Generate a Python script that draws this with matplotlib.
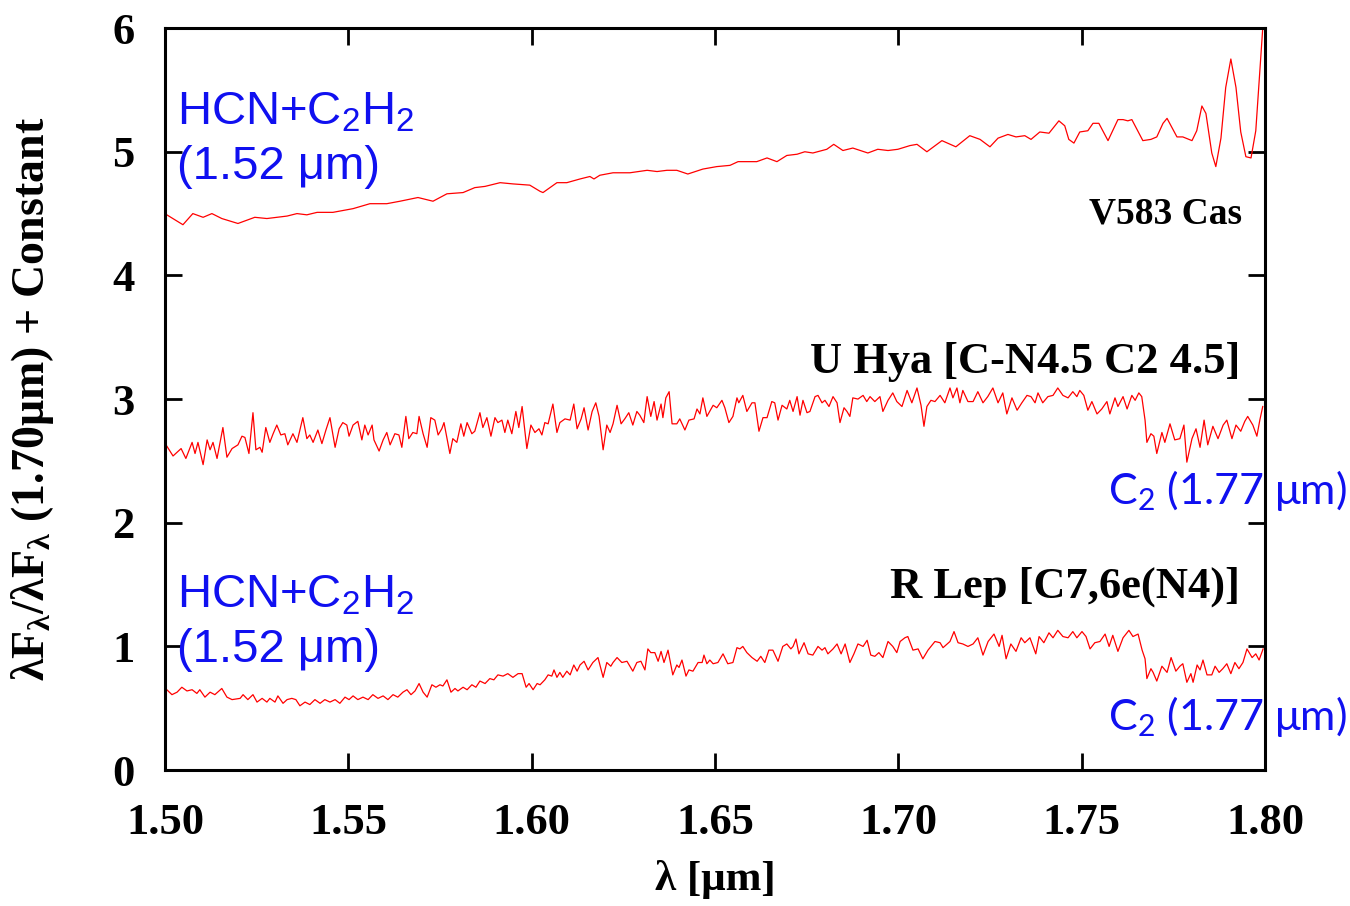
import numpy as np
import matplotlib
matplotlib.use("Agg")
from matplotlib import pyplot as plt

# V583 Cas (offset spectrum, top)
cas_wl = [1.5005, 1.5049, 1.5076, 1.5104, 1.5128, 1.5155, 1.5199, 1.5245, 1.5278, 1.5333,
          1.5360, 1.5387, 1.5415, 1.5458, 1.5513, 1.5559, 1.5605, 1.5641, 1.5690, 1.5731,
          1.5769, 1.5813, 1.5845, 1.5873, 1.5914, 1.5949, 1.5995, 1.6023, 1.6031, 1.6069,
          1.6096, 1.6132, 1.6159, 1.6170, 1.6186, 1.6222, 1.6268, 1.6315, 1.6342, 1.6369,
          1.6396, 1.6426, 1.6467, 1.6505, 1.6541, 1.6563, 1.6614, 1.6642, 1.6669, 1.6696,
          1.6724, 1.6745, 1.6767, 1.6805, 1.6824, 1.6849, 1.6876, 1.6917, 1.6944, 1.6972,
          1.6999, 1.7032, 1.7051, 1.7078, 1.7119, 1.7157, 1.7195, 1.7223, 1.7250, 1.7272,
          1.7299, 1.7321, 1.7345, 1.7362, 1.7386, 1.7411, 1.7438, 1.7454, 1.7465, 1.7479,
          1.7495, 1.7517, 1.7531, 1.7547, 1.7572, 1.7599, 1.7613, 1.7626, 1.7637, 1.7667,
          1.7689, 1.7705, 1.7722, 1.7733, 1.7760, 1.7776, 1.7801, 1.7814, 1.7828, 1.7839,
          1.7855, 1.7866, 1.7880, 1.7893, 1.7907, 1.7921, 1.7934, 1.7948, 1.7962, 1.7975,
          1.7994]
cas_fl = [4.49, 4.41, 4.50, 4.47, 4.50, 4.46, 4.42, 4.47, 4.46, 4.48,
          4.50, 4.49, 4.51, 4.51, 4.54, 4.58, 4.58, 4.60, 4.63, 4.60,
          4.66, 4.67, 4.71, 4.72, 4.75, 4.74, 4.73, 4.68, 4.67, 4.75,
          4.75, 4.78, 4.80, 4.78, 4.81, 4.83, 4.83, 4.85, 4.84, 4.85,
          4.85, 4.82, 4.86, 4.88, 4.89, 4.92, 4.92, 4.95, 4.92, 4.97,
          4.98, 5.00, 4.99, 5.02, 5.06, 5.01, 5.03, 4.99, 5.02, 5.01,
          5.02, 5.05, 5.06, 5.00, 5.09, 5.04, 5.13, 5.10, 5.04, 5.11,
          5.14, 5.12, 5.13, 5.10, 5.16, 5.15, 5.25, 5.21, 5.10, 5.07,
          5.16, 5.17, 5.23, 5.23, 5.09, 5.26, 5.26, 5.25, 5.26, 5.09,
          5.10, 5.12, 5.23, 5.27, 5.12, 5.12, 5.09, 5.17, 5.37, 5.31,
          4.99, 4.88, 5.11, 5.52, 5.75, 5.52, 5.16, 4.96, 4.95, 5.17,
          6.00]

# U Hya (middle)
hya_wl = [1.5005, 1.5022, 1.5044, 1.5057, 1.5074, 1.5082, 1.5090, 1.5104, 1.5115, 1.5123,
          1.5131, 1.5142, 1.5158, 1.5169, 1.5183, 1.5199, 1.5210, 1.5218, 1.5229, 1.5240,
          1.5248, 1.5259, 1.5265, 1.5275, 1.5286, 1.5295, 1.5305, 1.5316, 1.5327, 1.5335,
          1.5349, 1.5360, 1.5376, 1.5387, 1.5395, 1.5404, 1.5417, 1.5428, 1.5439, 1.5450,
          1.5464, 1.5475, 1.5485, 1.5496, 1.5502, 1.5513, 1.5526, 1.5537, 1.5545, 1.5554,
          1.5565, 1.5570, 1.5584, 1.5595, 1.5605, 1.5614, 1.5627, 1.5638, 1.5646, 1.5657,
          1.5665, 1.5676, 1.5687, 1.5693, 1.5704, 1.5715, 1.5725, 1.5736, 1.5745, 1.5755,
          1.5761, 1.5777, 1.5785, 1.5796, 1.5807, 1.5815, 1.5824, 1.5837, 1.5845, 1.5859,
          1.5867, 1.5878, 1.5889, 1.5900, 1.5908, 1.5919, 1.5927, 1.5935, 1.5946, 1.5957,
          1.5965, 1.5974, 1.5987, 1.5998, 1.6009, 1.6020, 1.6028, 1.6036, 1.6045, 1.6058,
          1.6069, 1.6077, 1.6091, 1.6105, 1.6115, 1.6124, 1.6135, 1.6143, 1.6154, 1.6165,
          1.6175, 1.6184, 1.6195, 1.6205, 1.6214, 1.6222, 1.6233, 1.6244, 1.6254, 1.6265,
          1.6276, 1.6287, 1.6295, 1.6306, 1.6315, 1.6325, 1.6334, 1.6342, 1.6353, 1.6358,
          1.6366, 1.6375, 1.6383, 1.6396, 1.6404, 1.6418, 1.6429, 1.6443, 1.6451, 1.6459,
          1.6467, 1.6478, 1.6495, 1.6505, 1.6519, 1.6527, 1.6538, 1.6549, 1.6560, 1.6565,
          1.6576, 1.6587, 1.6601, 1.6609, 1.6620, 1.6631, 1.6642, 1.6655, 1.6663, 1.6672,
          1.6683, 1.6696, 1.6704, 1.6713, 1.6724, 1.6732, 1.6740, 1.6751, 1.6759, 1.6773,
          1.6781, 1.6792, 1.6800, 1.6811, 1.6822, 1.6833, 1.6841, 1.6852, 1.6860, 1.6868,
          1.6876, 1.6890, 1.6904, 1.6914, 1.6923, 1.6936, 1.6950, 1.6958, 1.6972, 1.6985,
          1.6996, 1.7010, 1.7024, 1.7037, 1.7051, 1.7062, 1.7070, 1.7078, 1.7089, 1.7100,
          1.7114, 1.7127, 1.7141, 1.7149, 1.7160, 1.7168, 1.7176, 1.7190, 1.7204, 1.7217,
          1.7231, 1.7244, 1.7258, 1.7272, 1.7285, 1.7296, 1.7310, 1.7324, 1.7337, 1.7351,
          1.7362, 1.7373, 1.7381, 1.7394, 1.7408, 1.7422, 1.7435, 1.7449, 1.7463, 1.7476,
          1.7487, 1.7495, 1.7506, 1.7517, 1.7528, 1.7542, 1.7555, 1.7569, 1.7577, 1.7591,
          1.7599, 1.7613, 1.7624, 1.7637, 1.7646, 1.7656, 1.7664, 1.7673, 1.7678, 1.7689,
          1.7697, 1.7705, 1.7719, 1.7727, 1.7741, 1.7754, 1.7768, 1.7779, 1.7787, 1.7801,
          1.7812, 1.7823, 1.7834, 1.7844, 1.7858, 1.7872, 1.7886, 1.7896, 1.7910, 1.7921,
          1.7934, 1.7945, 1.7953, 1.7967, 1.7978, 1.7986, 1.7994]
hya_fl = [2.62, 2.54, 2.60, 2.52, 2.65, 2.56, 2.65, 2.47, 2.67, 2.59,
          2.65, 2.52, 2.77, 2.53, 2.60, 2.63, 2.70, 2.69, 2.56, 2.89,
          2.59, 2.61, 2.57, 2.77, 2.65, 2.72, 2.79, 2.71, 2.72, 2.63,
          2.72, 2.65, 2.85, 2.68, 2.71, 2.65, 2.75, 2.64, 2.75, 2.85,
          2.61, 2.76, 2.81, 2.79, 2.70, 2.79, 2.82, 2.67, 2.79, 2.71,
          2.79, 2.67, 2.58, 2.67, 2.73, 2.63, 2.72, 2.71, 2.61, 2.86,
          2.68, 2.73, 2.72, 2.86, 2.72, 2.61, 2.85, 2.83, 2.71, 2.76,
          2.81, 2.56, 2.68, 2.65, 2.80, 2.70, 2.81, 2.72, 2.74, 2.89,
          2.77, 2.85, 2.70, 2.85, 2.81, 2.83, 2.73, 2.83, 2.72, 2.90,
          2.77, 2.94, 2.60, 2.79, 2.73, 2.76, 2.71, 2.81, 2.80, 2.96,
          2.73, 2.81, 2.84, 2.83, 2.96, 2.76, 2.84, 2.93, 2.75, 2.90,
          2.97, 2.86, 2.59, 2.79, 2.73, 2.80, 2.95, 2.80, 2.84, 2.89,
          2.79, 2.90, 2.87, 2.81, 3.02, 2.86, 2.98, 2.83, 2.96, 2.85,
          3.01, 3.06, 2.80, 2.80, 2.84, 2.75, 2.83, 2.84, 2.92, 2.88,
          3.01, 2.86, 2.95, 2.93, 2.99, 2.93, 2.81, 2.86, 3.01, 2.97,
          3.03, 2.90, 2.97, 2.97, 2.74, 2.85, 2.85, 2.98, 2.97, 2.83,
          2.95, 2.92, 2.99, 2.90, 3.02, 2.87, 2.99, 2.89, 2.90, 3.02,
          3.03, 2.97, 2.99, 2.94, 3.02, 2.97, 2.81, 2.93, 2.90, 2.86,
          3.01, 3.00, 3.03, 2.98, 3.02, 2.98, 3.02, 2.90, 2.99, 3.05,
          2.98, 2.94, 3.07, 2.97, 3.09, 2.95, 2.78, 2.94, 2.99, 2.98,
          3.03, 2.97, 3.09, 3.01, 3.09, 2.97, 3.07, 2.98, 2.98, 3.06,
          2.97, 3.02, 3.09, 2.97, 3.05, 2.88, 3.01, 2.91, 2.97, 3.03,
          3.02, 2.97, 3.05, 2.97, 3.02, 3.03, 3.09, 3.03, 3.01, 3.06,
          3.02, 3.07, 3.03, 2.91, 2.98, 2.88, 2.92, 2.98, 2.88, 3.01,
          2.94, 3.02, 2.92, 3.03, 2.99, 3.05, 3.02, 2.83, 2.65, 2.72,
          2.70, 2.56, 2.73, 2.65, 2.80, 2.67, 2.68, 2.79, 2.49, 2.68,
          2.76, 2.61, 2.83, 2.63, 2.78, 2.68, 2.79, 2.83, 2.68, 2.79,
          2.74, 2.82, 2.86, 2.79, 2.70, 2.83, 2.94]

# R Lep (bottom)
lep_wl = [1.5005, 1.5019, 1.5033, 1.5046, 1.5060, 1.5074, 1.5087, 1.5095, 1.5109, 1.5123,
          1.5136, 1.5155, 1.5169, 1.5183, 1.5205, 1.5213, 1.5226, 1.5240, 1.5251, 1.5265,
          1.5278, 1.5286, 1.5300, 1.5308, 1.5322, 1.5333, 1.5346, 1.5357, 1.5368, 1.5382,
          1.5395, 1.5409, 1.5423, 1.5436, 1.5450, 1.5464, 1.5477, 1.5491, 1.5502, 1.5513,
          1.5526, 1.5540, 1.5554, 1.5567, 1.5581, 1.5595, 1.5608, 1.5622, 1.5635, 1.5649,
          1.5660, 1.5671, 1.5682, 1.5693, 1.5704, 1.5715, 1.5728, 1.5739, 1.5750, 1.5758,
          1.5769, 1.5780, 1.5791, 1.5799, 1.5813, 1.5824, 1.5837, 1.5848, 1.5859, 1.5873,
          1.5886, 1.5897, 1.5908, 1.5922, 1.5935, 1.5949, 1.5963, 1.5974, 1.5985, 1.5993,
          1.6004, 1.6015, 1.6023, 1.6036, 1.6045, 1.6055, 1.6061, 1.6069, 1.6077, 1.6085,
          1.6096, 1.6105, 1.6115, 1.6124, 1.6132, 1.6143, 1.6154, 1.6167, 1.6181, 1.6195,
          1.6205, 1.6216, 1.6222, 1.6233, 1.6246, 1.6260, 1.6276, 1.6287, 1.6298, 1.6309,
          1.6317, 1.6325, 1.6336, 1.6345, 1.6353, 1.6361, 1.6372, 1.6385, 1.6396, 1.6402,
          1.6410, 1.6421, 1.6429, 1.6440, 1.6454, 1.6465, 1.6470, 1.6478, 1.6486, 1.6495,
          1.6508, 1.6522, 1.6535, 1.6549, 1.6560, 1.6568, 1.6576, 1.6587, 1.6601, 1.6615,
          1.6625, 1.6636, 1.6647, 1.6658, 1.6672, 1.6685, 1.6696, 1.6707, 1.6713, 1.6721,
          1.6729, 1.6743, 1.6754, 1.6767, 1.6781, 1.6792, 1.6800, 1.6808, 1.6822, 1.6833,
          1.6844, 1.6855, 1.6868, 1.6879, 1.6890, 1.6904, 1.6915, 1.6925, 1.6936, 1.6947,
          1.6958, 1.6972, 1.6985, 1.6996, 1.7005, 1.7018, 1.7026, 1.7040, 1.7054, 1.7067,
          1.7081, 1.7100, 1.7114, 1.7122, 1.7141, 1.7152, 1.7163, 1.7176, 1.7190, 1.7204,
          1.7217, 1.7231, 1.7245, 1.7261, 1.7275, 1.7283, 1.7294, 1.7307, 1.7321, 1.7335,
          1.7345, 1.7359, 1.7375, 1.7384, 1.7397, 1.7411, 1.7422, 1.7435, 1.7449, 1.7463,
          1.7476, 1.7487, 1.7501, 1.7512, 1.7523, 1.7536, 1.7550, 1.7564, 1.7575, 1.7585,
          1.7599, 1.7613, 1.7629, 1.7640, 1.7654, 1.7665, 1.7673, 1.7678, 1.7689, 1.7695,
          1.7705, 1.7719, 1.7733, 1.7744, 1.7757, 1.7768, 1.7776, 1.7787, 1.7798, 1.7804,
          1.7815, 1.7823, 1.7831, 1.7842, 1.7855, 1.7864, 1.7875, 1.7885, 1.7896, 1.7907,
          1.7918, 1.7929, 1.7940, 1.7951, 1.7965, 1.7975, 1.7984, 1.7995]
lep_fl = [0.65, 0.61, 0.63, 0.67, 0.64, 0.65, 0.62, 0.65, 0.59, 0.63,
          0.61, 0.66, 0.59, 0.57, 0.58, 0.61, 0.57, 0.61, 0.55, 0.58,
          0.55, 0.58, 0.55, 0.60, 0.54, 0.57, 0.58, 0.57, 0.52, 0.55,
          0.53, 0.57, 0.54, 0.57, 0.55, 0.57, 0.54, 0.59, 0.57, 0.60,
          0.57, 0.59, 0.57, 0.61, 0.58, 0.60, 0.57, 0.61, 0.59, 0.63,
          0.65, 0.61, 0.64, 0.70, 0.63, 0.59, 0.69, 0.67, 0.69, 0.68,
          0.73, 0.63, 0.66, 0.64, 0.67, 0.65, 0.69, 0.67, 0.72, 0.70,
          0.74, 0.73, 0.77, 0.76, 0.78, 0.75, 0.78, 0.78, 0.67, 0.70,
          0.65, 0.70, 0.69, 0.73, 0.77, 0.76, 0.81, 0.75, 0.79, 0.75,
          0.80, 0.77, 0.85, 0.80, 0.85, 0.88, 0.81, 0.87, 0.91, 0.75,
          0.87, 0.84, 0.87, 0.91, 0.87, 0.88, 0.80, 0.87, 0.88, 0.81,
          0.98, 0.95, 0.95, 0.88, 0.96, 0.87, 0.97, 0.77, 0.85, 0.83,
          0.89, 0.76, 0.81, 0.80, 0.87, 0.87, 0.93, 0.86, 0.89, 0.86,
          0.87, 0.94, 0.86, 0.87, 0.99, 0.98, 1.00, 0.95, 0.91, 0.88,
          0.92, 0.87, 0.97, 0.97, 0.88, 1.00, 1.02, 0.98, 1.00, 1.06,
          0.94, 1.03, 0.94, 0.93, 1.00, 0.97, 0.99, 0.94, 0.98, 1.02,
          0.94, 1.02, 0.87, 0.94, 1.02, 1.00, 1.05, 0.93, 0.92, 0.95,
          0.91, 1.04, 1.00, 0.95, 1.04, 1.07, 1.08, 0.97, 0.98, 0.90,
          0.97, 1.04, 1.03, 0.99, 1.04, 1.12, 1.03, 1.02, 1.00, 1.02,
          1.07, 0.93, 1.04, 1.10, 1.00, 1.09, 0.90, 1.02, 0.96, 1.07,
          1.03, 1.07, 0.94, 1.08, 1.03, 1.11, 1.07, 1.13, 1.08, 1.07,
          1.12, 1.07, 1.12, 1.08, 0.98, 1.03, 1.04, 1.10, 1.00, 1.09,
          0.96, 1.07, 1.13, 1.08, 1.10, 0.97, 0.90, 0.74, 0.82, 0.79,
          0.72, 0.84, 0.79, 0.91, 0.80, 0.84, 0.86, 0.71, 0.78, 0.71,
          0.85, 0.81, 0.89, 0.77, 0.77, 0.84, 0.79, 0.82, 0.86, 0.78,
          0.87, 0.82, 0.87, 0.98, 0.91, 0.94, 0.89, 0.98]

xticks = [1.50, 1.55, 1.60, 1.65, 1.70, 1.75, 1.80]
yticks = [0, 1, 2, 3, 4, 5, 6]

plt.rcParams["font.family"] = ["Liberation Serif", "DejaVu Serif"]
plt.rcParams["font.weight"] = "bold"

fig = plt.figure(figsize=(13.5, 9.06), dpi=100)
ax = fig.add_axes([0.1222, 0.150, 0.8148, 0.819])

for wl, fl in [(cas_wl, cas_fl), (hya_wl, hya_fl), (lep_wl, lep_fl)]:
    ax.plot(wl, fl, color="red", lw=0.9)

ax.set_xlim(1.50, 1.80)
ax.set_ylim(0, 6)
ax.set_xticks(xticks)
ax.set_xticklabels(["%.2f" % t for t in xticks])
ax.set_yticks(yticks)
ax.tick_params(direction="in", length=12, width=2, top=True, right=True, labelsize=32)
ax.tick_params(axis="x", pad=24)
ax.tick_params(axis="y", pad=22)
for lab in ax.get_xticklabels() + ax.get_yticklabels():
    lab.set_fontweight("bold")
for sp in ax.spines.values():
    sp.set_linewidth(2.2)

ax.set_xlabel("λ [μm]", fontsize=31, fontweight="bold", labelpad=12)
ax.set_ylabel(r"λF$\mathregular{_λ}$/λF$\mathregular{_λ}$ (1.70μm) + Constant",
              fontsize=33, fontweight="bold", labelpad=40)

# star names
ax.text(1.7937, 4.50, "V583 Cas", fontsize=27, fontweight="bold", ha="right", va="center")
ax.text(1.7932, 3.30, "U Hya [C-N4.5 C2 4.5]", fontsize=32, fontweight="bold",
        ha="right", va="center")
ax.text(1.7932, 1.48, "R Lep [C7,6e(N4)]", fontsize=32, fontweight="bold",
        ha="right", va="center")

# band identifications
hcn = r"HCN+C$\mathregular{_2}$H$\mathregular{_2}$"
for y1, y2 in [(5.32, 4.88), (1.41, 0.97)]:
    ax.text(1.5033, y1, hcn, fontsize=34, color="#1010f0", family="Liberation Sans",
            fontweight="normal", ha="left", va="center")
    ax.text(1.5033, y2, "(1.52 μm)", fontsize=34, color="#1010f0", family="Liberation Sans",
            fontweight="normal", ha="left", va="center")

c2 = r"C$\mathregular{_2}$ (1.77 μm)"
for y in [2.26, 0.43]:
    ax.text(1.7572, y, c2, fontsize=31, color="#1010f0", family="Lato",
            fontweight="normal", ha="left", va="center")

fig.savefig("out.png", dpi=100)
